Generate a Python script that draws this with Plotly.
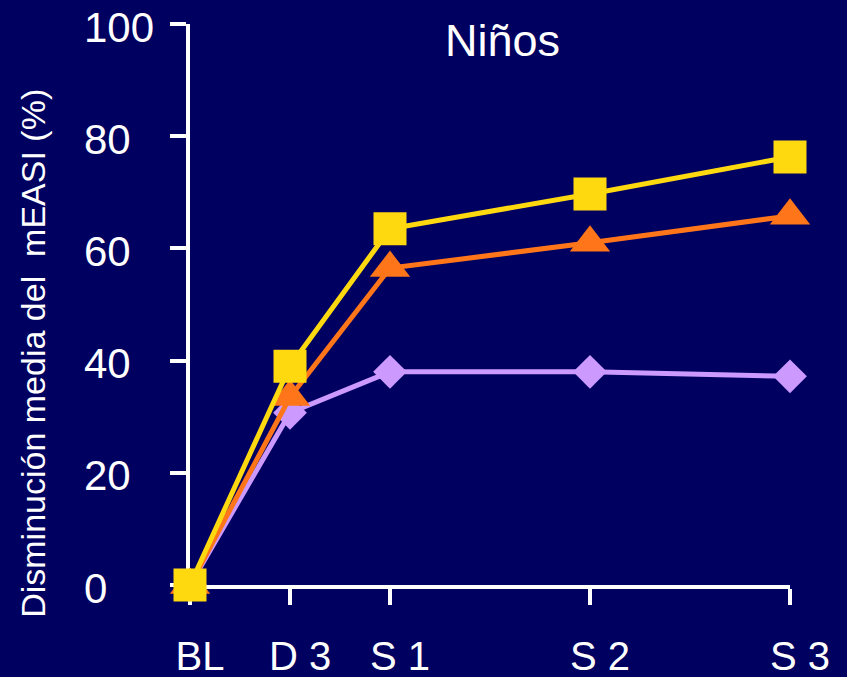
import plotly.graph_objects as go

# Data
categories = ["BL", "D 3", "S 1", "S 2", "S 3"]
x_pos = [0, 1, 2, 4, 6]
purple_vals = [0, 30.7, 38.0, 38.0, 37.2]
orange_vals = [0, 33.5, 56.5, 61.0, 65.8]
yellow_vals = [0, 39.0, 63.5, 69.7, 76.3]
y_ticks = [0, 20, 40, 60, 80, 100]

BG = "#000060"
FONT = "Liberation Sans, Arial, sans-serif"

fig = go.Figure()
fig.add_trace(go.Scatter(
    x=x_pos, y=purple_vals, mode="lines+markers", cliponaxis=False,
    line=dict(color="#CC99FF", width=5),
    marker=dict(symbol="diamond", size=26, color="#CC99FF", line=dict(width=0)),
    showlegend=False))
fig.add_trace(go.Scatter(
    x=x_pos, y=orange_vals, mode="lines+markers", cliponaxis=False,
    line=dict(color="#FF7519", width=5),
    marker=dict(symbol="triangle-up", size=35, color="#FF7519", line=dict(width=0)),
    showlegend=False))
fig.add_trace(go.Scatter(
    x=x_pos, y=yellow_vals, mode="lines+markers", cliponaxis=False,
    line=dict(color="#FFD910", width=5),
    marker=dict(symbol="square", size=33, color="#FFD910", line=dict(width=0)),
    showlegend=False))

annotations = []
for v in y_ticks:
    annotations.append(dict(
        x=-0.18, xref="paper", y=v, yref="y", text=str(v),
        xanchor="left", yanchor="middle", yshift=-3, showarrow=False,
        font=dict(family=FONT, size=42, color="white")))
annotations.append(dict(
    x=3.12, xref="x", y=0.971, yref="paper", text="Niños",
    xanchor="center", yanchor="middle", showarrow=False,
    font=dict(family=FONT, size=45, color="white")))
annotations.append(dict(
    x=-0.262, xref="paper", y=0.4135, yref="paper",
    text="Disminución media del\u00a0\u00a0mEASI (%)", textangle=-90,
    xanchor="center", yanchor="middle", showarrow=False,
    font=dict(family=FONT, size=34, color="white")))

fig.update_layout(
    width=847, height=677,
    paper_bgcolor=BG, plot_bgcolor=BG,
    margin=dict(l=190, r=57, t=24, b=92, autoexpand=False),
    font=dict(family=FONT, color="white"),
    annotations=annotations,
    xaxis=dict(
        range=[0, 6], tickmode="array", tickvals=x_pos, ticktext=categories,
        showgrid=False, zeroline=False, showline=True, linecolor="white",
        linewidth=4, ticks="outside", ticklen=16, tickwidth=4, tickcolor="white",
        tickfont=dict(family=FONT, size=40, color="white"),
        ticklabelstandoff=17, ticklabelshift=10, automargin=False,
        layer="below traces"),
    yaxis=dict(
        range=[0, 100], tickmode="array", tickvals=y_ticks, showticklabels=False,
        showgrid=False, zeroline=False, showline=True, linecolor="white",
        linewidth=4, ticks="outside", ticklen=16, tickwidth=4, tickcolor="white",
        automargin=False, layer="below traces"),
)

fig.write_html(
    "out.html",
    config={"displayModeBar": False},
    post_script="document.body.style.margin='0';document.body.style.background='#000060';",
)
